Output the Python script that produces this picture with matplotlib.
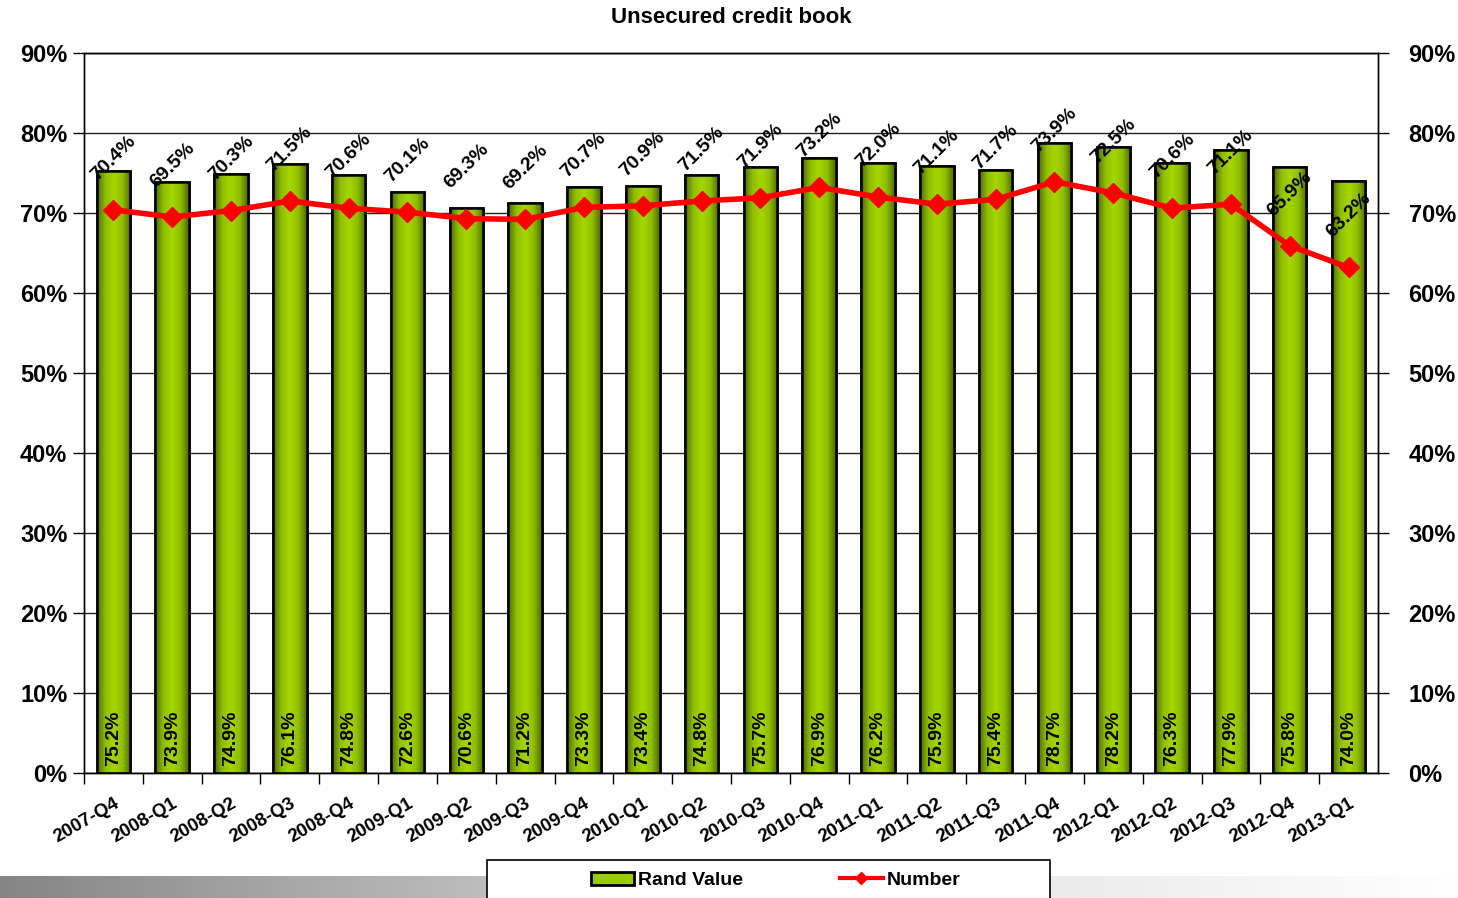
import numpy as np
import matplotlib
matplotlib.use("Agg")
import matplotlib.pyplot as plt
from matplotlib.lines import Line2D
from matplotlib.patches import Rectangle
from matplotlib.colors import LinearSegmentedColormap

plt.rcParams["font.family"] = ["Liberation Sans", "DejaVu Sans"]
plt.rcParams["font.weight"] = "bold"

quarters = ["2007-Q4", "2008-Q1", "2008-Q2", "2008-Q3", "2008-Q4", "2009-Q1",
            "2009-Q2", "2009-Q3", "2009-Q4", "2010-Q1", "2010-Q2", "2010-Q3",
            "2010-Q4", "2011-Q1", "2011-Q2", "2011-Q3", "2011-Q4", "2012-Q1",
            "2012-Q2", "2012-Q3", "2012-Q4", "2013-Q1"]
rand_value = [75.2, 73.9, 74.9, 76.1, 74.8, 72.6, 70.6, 71.2, 73.3, 73.4, 74.8,
              75.7, 76.9, 76.2, 75.9, 75.4, 78.7, 78.2, 76.3, 77.9, 75.8, 74.0]
number = [70.4, 69.5, 70.3, 71.5, 70.6, 70.1, 69.3, 69.2, 70.7, 70.9, 71.5,
          71.9, 73.2, 72.0, 71.1, 71.7, 73.9, 72.5, 70.6, 71.1, 65.9, 63.2]
y_ticks = [0, 10, 20, 30, 40, 50, 60, 70, 80, 90]

fig = plt.figure(figsize=(14.58, 8.98), dpi=100)

# grey band at the bottom of the slide
band = fig.add_axes([0, 0, 1, 0.024])
band.axis("off")
band_cmap = LinearSegmentedColormap.from_list(
    "band", ["#858585", "#a8a8a8", "#c8c8c8", "#e2e2e2", "#f0f0f0", "#ffffff"])
band.imshow(np.linspace(0, 1, 256)[None, :], cmap=band_cmap, aspect="auto", extent=[0, 1, 0, 1])

ax = fig.add_axes([0.0576, 0.1392, 0.8875, 0.8018])
x = np.arange(len(quarters))
bar_w = 0.57

bars = ax.bar(x, rand_value, width=bar_w, color="#99cc00", edgecolor="black",
              linewidth=1.8, zorder=2)

# cylinder-like shading on every bar
shade = LinearSegmentedColormap.from_list("shade", ["#4f6a00", "#8fbf00", "#a6d600", "#8fbf00", "#4f6a00"])
grad = np.linspace(0, 1, 128)[None, :]
for b in bars:
    im = ax.imshow(grad, cmap=shade, aspect="auto", zorder=2.1,
                   extent=[b.get_x(), b.get_x() + b.get_width(), 0, b.get_height()])
    im.set_clip_path(b)
    ax.add_patch(Rectangle((b.get_x(), 0), b.get_width(), b.get_height(), fill=False,
                           edgecolor="black", linewidth=1.8, zorder=2.2))

ax.plot(x, number, color="#ff0000", linewidth=4, marker="D", markersize=10, zorder=3)

for xi, v in zip(x, rand_value):
    ax.text(xi, 0.9, f"{v:.1f}%", rotation=90, ha="center", va="bottom",
            fontsize=14, fontweight="bold", zorder=4)
for xi, v in zip(x, number):
    ax.annotate(f"{v:.1f}%", (xi, v), xytext=(0, 52), textcoords="offset pixels",
                rotation=45, ha="center", va="center", rotation_mode="anchor",
                fontsize=14, fontweight="bold", zorder=4)

ax.set_xlim(-0.5, len(quarters) - 0.5)
ax.set_ylim(0, 90)
ax.set_yticks(y_ticks)
ax.set_yticklabels([f"{t}%" for t in y_ticks], fontsize=17, fontweight="bold")
ax.grid(axis="y", color="#202020", linewidth=1, zorder=0)
ax.set_axisbelow(True)
ax.tick_params(axis="y", direction="out", length=8, width=1, pad=4)

ax.set_xticks(x - 0.5, minor=False)
ax.set_xticklabels([])
ax.set_xticks(x, minor=True)
ax.set_xticklabels(quarters, minor=True, rotation=30, ha="right", rotation_mode="anchor",
                   fontsize=13.5, fontweight="bold")
ax.tick_params(axis="x", which="major", direction="out", length=8, width=1)
ax.tick_params(axis="x", which="minor", length=0, pad=16)

ax2 = ax.twinx()
ax2.set_ylim(0, 90)
ax2.set_yticks(y_ticks)
ax2.set_yticklabels([f"{t}%" for t in y_ticks], fontsize=17, fontweight="bold")
ax2.tick_params(axis="y", direction="out", length=8, width=1, pad=14)

for a in (ax, ax2):
    for s in a.spines.values():
        s.set_linewidth(1)

fig.text(0.5015, 0.98, "Unsecured credit book", ha="center", va="center",
         fontsize=16, fontweight="bold")

# legend box, running off the bottom edge like the slide
fig.patches.append(Rectangle((487 / 1458, -0.01), 563 / 1458, 1 - 860 / 898 + 0.01,
                             transform=fig.transFigure, facecolor="white",
                             edgecolor="black", linewidth=1.2, zorder=5))

handles = [
    Rectangle((0, 0), 1, 1, facecolor="#99cc00", edgecolor="black", linewidth=2),
    Line2D([], [], color="#ff0000", linewidth=3, marker="D", markersize=6),
]
leg = fig.legend(handles, ["Rand Value", "Number"], loc="center",
                 bbox_to_anchor=(0.532, 0.0195), ncol=2, frameon=False,
                 fontsize=14, columnspacing=5.0, handlelength=2.2, handletextpad=0.2)
leg.set_zorder(10)

fig.savefig("out.png", dpi=100)
